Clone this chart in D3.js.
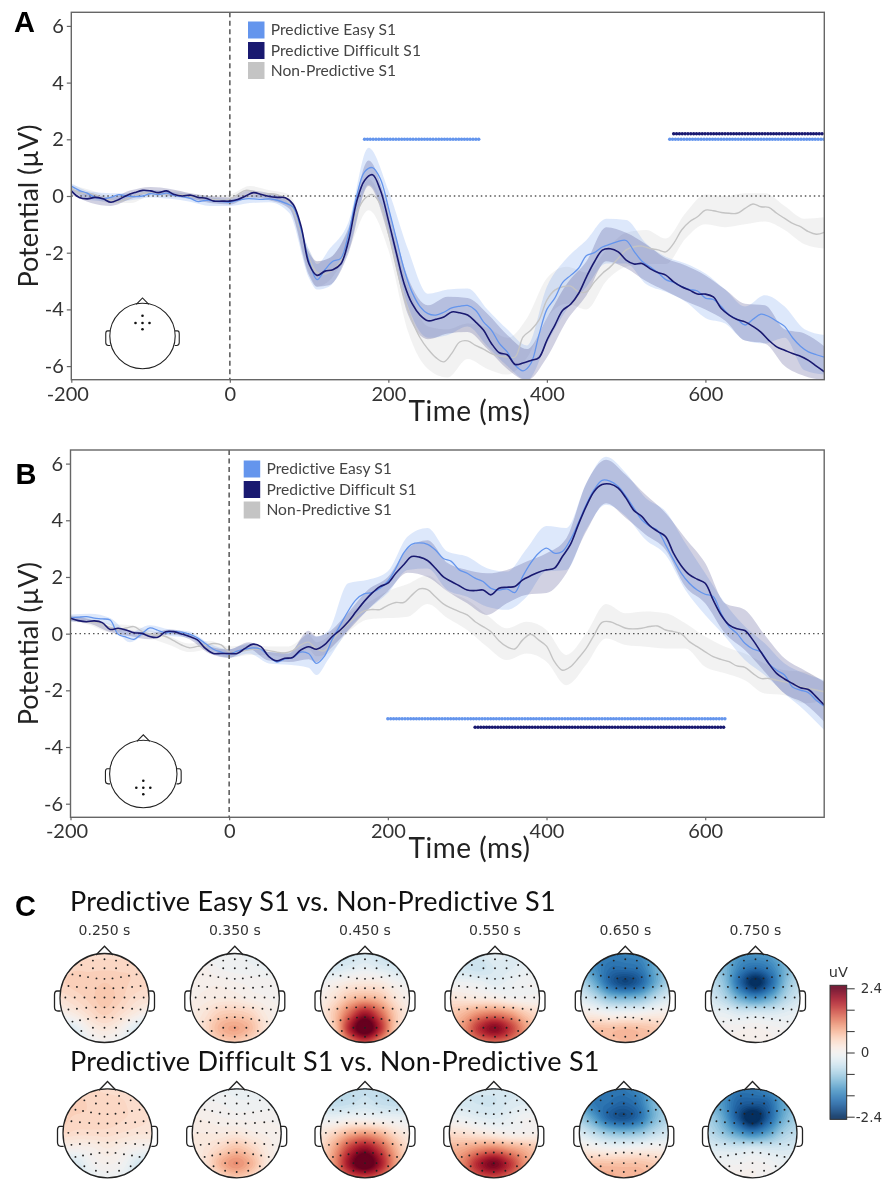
<!DOCTYPE html>
<html>
<head>
<meta charset="utf-8">
<script src="https://cdn.jsdelivr.net/npm/d3@7"></script>
<style>
  html, body { margin: 0; padding: 0; background: #fff; }
  svg { display: block; filter: blur(0.35px); }
</style>
</head>
<body>
<div id="canvas"></div>
<script>
const width = 896;
const height = 1179;

// ---- data ----
const times = d3.range(-200, 751, 10);
const bandTimes = [-200,-175,-150,-125,-100,-75,-50,-25,0,25,50,75,100,110,125,150,175,200,225,250,275,300,325,350,375,400,425,450,475,500,525,550,575,600,625,650,675,700,725,750];
const yTicks = [-6, -4, -2, 0, 2, 4, 6];
const xTicks = [-200, 0, 200, 400, 600];
const legendLabels = ["Predictive Easy S1", "Predictive Difficult S1", "Non-Predictive S1"];

const easyA = [.35,.2,.1,-.05,-.1,-.05,.05,0,-.02,0, .08,.05,.1,.02,-.02,-.08,-.2,-.15,-.18,-.2, -.22,-.15,-.1,-.1,-.12,-.1,-.15,-.25,-.4,-1.2, -2.3,-2.95,-2.6,-2.3,-2.2,-1.3,0,.85,1,.6, -.4,-1.5,-2.6,-3.4,-3.9,-4.15,-4.2,-4.1,-3.95,-3.89, -3.86,-4.03,-4.44,-4.73,-5.2,-5.5,-5.97,-6.17,-5.9,-4.9, -4,-3.6,-3.05,-2.8,-2.55,-2.1,-2,-1.8,-1.7,-1.6, -1.57,-1.95,-2.3,-2.5,-2.7,-2.95,-3.05,-3.2,-3.3,-3.35, -3.6,-3.65,-3.9,-4.2,-4.35,-4.55,-4.35,-4.17,-4.25,-4.42, -4.6,-5,-5.3,-5.5,-5.6,-5.68];
const diffA = [.18,-.05,-.1,-.05,-.1,-.22,-.12,.02,.12,.2, .18,.12,.18,.05,0,.03,-.05,-.08,-.18,-.18, -.18,-.12,0,.12,.05,-.02,-.05,-.06,-.3,-1.08, -2.4,-2.8,-2.65,-2.6,-2.4,-1.55,-.2,.55,.75,.2, -.85,-2,-3.1,-3.8,-4.2,-4.4,-4.35,-4.27,-4.09,-4.12, -4.2,-4.44,-4.73,-5.2,-5.53,-5.6,-5.94,-5.89,-5.8,-5.7, -5.09,-4.56,-4.03,-3.82,-3.44,-2.85,-2.32,-1.91,-1.86,-1.97, -2.26,-2.4,-2.38,-2.56,-2.7,-2.79,-3.03,-3.2,-3.32,-3.46, -3.46,-3.56,-3.97,-4.2,-4.36,-4.44,-4.6,-4.8,-5.09,-5.32, -5.44,-5.56,-5.65,-5.8,-6,-6.2];
const nonA = [.3,.1,.1,.05,-.08,-.15,-.2,-.1,0,.1, .1,.1,.08,.05,.05,0,-.05,-.1,-.12,-.15, -.1,.05,.2,.15,.05,.08,.05,-.1,-.5,-1.3, -2.2,-2.7,-2.75,-2.6,-2.3,-1.5,-.6,-.1,.05,-.3, -1.3,-2.5,-3.6,-4.4,-5,-5.4,-5.7,-5.85,-5.55,-5.15, -5.11,-5.27,-5.4,-5.56,-5.65,-5.68,-5.68,-4.97,-4.73,-4.38, -3.67,-3.32,-3.2,-3.18,-3.38,-3.38,-3.03,-2.73,-2.5,-2.2, -1.9,-1.79,-1.77,-1.85,-1.9,-1.97,-1.67,-1.2,-.91,-.73, -.5,-.52,-.58,-.61,-.61,-.44,-.28,-.38,-.4,-.61, -.79,-.97,-1.08,-1.26,-1.35,-1.28];

const easyUpA = [.45,.15,.1,.1,.2,.15,.05,-.05,-.1,0,.05,-.15,-1.9,-2.4,-1.9,-.9,1.7,.2,-1.9,-3.45,-3.3,-3.26,-4,-4.7,-5.27,-3.2,-2.2,-1.55,-.8,-.85,-1.67,-2.14,-2.38,-2.73,-3.3,-3.9,-3.5,-3.9,-4.7,-4.9];
const easyLoA = [.2,-.15,-.2,-.15,-.05,-.1,-.2,-.35,-.35,-.25,-.22,-.6,-2.9,-3.3,-3.2,-1.9,.4,-1.2,-3.9,-5,-4.9,-4.6,-5.3,-6,-6.5,-5.2,-4,-3.2,-2.38,-2.38,-3.1,-3.38,-3.73,-4.3,-4.5,-5.1,-5.2,-5,-6.15,-6.3];
const diffUpA = [.25,.1,-.05,.2,.32,.25,.1,0,-.05,.2,.1,-.1,-2,-2.3,-2.2,-1.1,1.25,-.45,-2.9,-3.85,-3.55,-3.6,-4.15,-4.9,-5.4,-4.3,-3.1,-2.3,-1.1,-1.3,-1.7,-2.2,-2.45,-2.8,-3.3,-3.8,-3.85,-4.7,-4.85,-5.3];
const diffLoA = [.05,-.25,-.35,-.1,.1,0,-.1,-.25,-.3,-.05,-.15,-.45,-2.8,-3.2,-3.15,-2,.35,-1.4,-4.2,-5.05,-4.85,-4.8,-5.4,-6.1,-6.5,-5.7,-4.4,-3.5,-2.3,-2.55,-3,-3.35,-3.7,-4,-4.4,-5.1,-5.2,-6,-6.35,-6.5];
const nonUpA = [.4,.2,0,0,.2,.2,.1,0,.05,.35,.2,.05,-1.9,-2.3,-2.2,-1.2,.6,-.9,-3.2,-4.6,-4.7,-4.5,-4.65,-5,-4.3,-2.9,-2.5,-2.7,-1.9,-1.3,-1.2,-1.5,-.6,.05,0,.1,.1,-.35,-.8,-.75];
const nonLoA = [.2,-.05,-.25,-.25,0,-.05,-.1,-.2,-.2,0,-.1,-.4,-2.7,-3.2,-3,-1.9,-.5,-1.9,-4.8,-6.1,-6.4,-5.75,-6.1,-6.3,-5.7,-4.3,-3.8,-4,-3,-2.5,-2.4,-2.4,-1.5,-1,-1.1,-1,-.9,-1.2,-1.7,-1.85];

const easyB = [.55,.58,.6,.55,.52,.48,-.02,-.12,-.2,0, .2,.12,.03,.08,.05,-.02,-.15,-.35,-.55,-.65, -.72,-.62,-.55,-.5,-.55,-.8,-1,-.9,-.85,-.65, -.7,-1.05,-.8,-.2,.3,.8,1.2,1.4,1.45,1.6, 1.85,2.3,2.85,3.15,3.2,3.15,2.95,2.65,2.55,2.25, 2.13,1.96,1.84,1.6,1.54,1.58,1.45,2.02,2.49,2.84, 3.02,2.84,2.9,3.31,3.9,4.55,5.08,5.41,5.38,5.2, 4.85,4.43,4.02,3.79,3.64,3.14,2.61,2.13,1.78,1.54, 1.39,1.31,.72,.25,.01,-.34,-.54,-.64,-1.05,-1.29, -1.46,-1.88,-1.99,-2.08,-2.35,-2.56];
const diffB = [.54,.46,.42,.45,.39,.15,.19,.13,.03,.01, -.1,-.13,.07,.07,-.01,-.1,-.22,-.52,-.7,-.7, -.7,-.7,-.52,-.37,-.46,-.81,-.96,-.87,-.84,-.58, -.46,-.55,-.4,-.1,.13,.42,.78,1.13,1.43,1.66, 1.78,2.13,2.43,2.72,2.7,2.58,2.31,2,1.84,1.69, 1.54,1.52,1.54,1.37,1.6,1.64,1.66,1.9,2.04,2.17, 2.25,2.31,2.72,3.14,3.84,4.49,5.02,5.26,5.28,5.14, 4.79,4.35,4.14,3.81,3.61,3.43,2.84,2.39,2.08,1.92, 1.78,1.19,.66,.31,.17,.11,-.22,-.64,-1.05,-1.4, -1.6,-1.76,-1.91,-1.97,-2.23,-2.52];
const nonB = [.55,.45,.42,.4,.35,.2,.15,.2,.25,.08, -.02,-.05,-.1,-.25,-.4,-.5,-.45,-.42,-.35,-.4, -.65,-.65,-.6,-.55,-.55,-.6,-.65,-.68,-.6,-.4, -.3,-.55,-.6,-.25,.1,.35,.6,.8,.85,.85, 1,1.1,1.1,1.35,1.58,1.55,1.3,1.05,.9,.78, .66,.42,.25,.07,-.25,-.46,-.54,-.22,-.02,-.22, -.44,-.99,-1.29,-1.17,-.87,-.52,-.05,.4,.42,.31, .19,.17,.19,.25,.27,.13,.07,-.01,-.28,-.46, -.64,-.81,-.91,-.99,-1.14,-1.19,-1.4,-1.58,-1.58,-1.64, -1.7,-1.76,-1.88,-1.93,-1.99,-2.05];

const easyUpB = [.68,.7,.55,.05,.3,.15,.08,-.35,-.55,-.35,-.65,-.65,0,-.1,.1,1.78,1.9,2.2,3.43,3.73,2.9,2.72,2.31,2.19,3,3.8,3.73,5.3,6.24,5.67,4.79,4.32,3.2,2.13,1.07,.25,-.34,-1.05,-1.4,-1.64];
const easyLoB = [.42,.45,.3,-.3,.05,-.08,-.15,-.65,-.85,-.7,-1.05,-1.1,-1.2,-1.46,-.9,.13,.84,1.43,2.25,2.3,1.54,1.3,.95,.84,1.3,2.2,2.25,3.67,4.55,4.14,3.31,2.78,1.54,.66,-.1,-.93,-1.46,-2.11,-2.7,-3.4];
const diffUpB = [.62,.5,.25,.12,.02,.15,0,-.45,-.55,-.3,-.65,-.7,.1,-.1,.05,.75,1.55,2,3,3.3,2.5,2.25,2.13,2.25,2.55,2.84,3.37,5.3,6.14,5.6,4.9,4.26,3.37,2.49,1.07,.84,-.05,-.87,-1.29,-1.7];
const diffLoB = [.45,.35,.05,-.08,-.2,-.02,-.2,-.7,-.85,-.55,-.95,-1,-.9,-1,-.6,.1,.85,1.5,2.15,2,1.5,1.07,.66,1.07,1.37,1.43,2.13,3.6,4.6,4.08,3.49,2.96,1.66,1.07,.01,-.58,-1.34,-2.11,-2.46,-3.11];
const nonUpB = [.65,.55,.35,.3,.12,-.1,-.35,-.25,-.45,-.4,-.45,-.45,-.05,-.3,-.1,.7,1.1,1.5,1.75,2.05,1.5,1.19,.66,.19,.42,.13,-.75,.01,1.05,.72,.78,.72,.37,-.1,-.46,-.7,-1.05,-1.29,-1.34,-1.7];
const nonLoB = [.45,.3,.05,.1,-.15,-.4,-.65,-.55,-.85,-.75,-.75,-.85,-.55,-.8,-.7,.05,.5,.55,.6,1.05,.55,.13,-.46,-.93,-.7,-.99,-1.82,-1.1,-.17,-.4,-.46,-.52,-.52,-1.17,-1.4,-1.64,-2.11,-2.17,-2.46,-2.35];

// significant stretches: [from, to, level]
const sigEasyA = [[170, 315, 2], [555, 750, 2]];
const sigDiffA = [[560, 750, 2.2]];
const sigEasyB = [[200, 625, -3]];
const sigDiffB = [[310, 625, -3.3]];

// topomaps, 7x7 grid front to back, left to right (uV)
const topoLabels = ["0.250 s", "0.350 s", "0.450 s", "0.550 s", "0.650 s", "0.750 s"];
const topoEasy250 = [.4,.4,.4,.4,.4,.4,.4, .45,.5,.5,.5,.5,.5,.45, .5,.55,.55,.6,.55,.5,.45, .35,.45,.55,.65,.55,.4,.35, .05,.2,.4,.55,.4,.2,0, -.5,-.3,.1,.25,.1,-.3,-.7, -.6,-.45,-.15,0,-.15,-.45,-.8];
const topoEasy350 = [-.1,-.1,-.1,-.1,-.15,-.2,-.2, .05,.05,-.05,-.08,-.1,-.15,-.15, .1,.1,.1,.05,.02,0,-.02, .1,.15,.2,.2,.1,.05,0, .15,.3,.55,.6,.5,.2,.05, .1,.4,.8,.95,.75,.3,0, .05,.2,.5,.6,.4,.1,0];
const topoEasy450 = [-.5,-.5,-.5,-.4,-.5,-.6,-.6, -.4,-.4,-.3,-.2,-.3,-.4,-.5, -.1,.05,.2,.25,.2,0,-.1, .1,.35,.7,.85,.7,.3,.05, .2,.65,1.4,2,1.4,.6,.15, .15,.6,1.9,2.7,1.8,.6,.1, .05,.3,1.1,1.5,1,.3,.05];
const topoEasy550 = [-.4,-.4,-.35,-.2,-.3,-.3,-.2, -.4,-.45,-.5,-.35,-.3,-.2,-.15, -.1,-.1,-.15,-.25,-.15,-.05,-.05, .3,.25,.2,.15,.02,0,0, .6,.8,1.1,1.2,1,.6,.4, .7,1.1,1.8,2.2,1.7,1,.5, .5,.9,1.2,1.3,1.2,.8,.4];
const topoEasy650 = [-1.3,-1.5,-1.6,-1.6,-1.5,-1.2,-1, -1.1,-1.5,-1.8,-1.8,-1.7,-1.2,-.9, -.7,-1.2,-1.9,-2.2,-1.9,-1.2,-.7, -.3,-.6,-1,-1.1,-1,-.6,-.3, .2,.1,-.05,-.05,0,.1,.15, .5,.7,.7,.75,.7,.6,.4, .5,.7,.7,.75,.7,.5,.3];
const topoEasy750 = [-.9,-1.1,-1.4,-1.4,-1.3,-.9,-.7, -.8,-1.1,-1.6,-1.8,-1.6,-1.1,-.7, -.6,-1,-1.9,-2.5,-1.9,-1,-.6, -.4,-.7,-1.2,-1.5,-1.2,-.7,-.4, -.15,-.2,-.35,-.35,-.35,-.25,-.15, -.02,0,.02,.05,0,-.05,-.1, 0,.05,.05,.1,.05,0,-.05];
const topoDiff250 = [.4,.45,.45,.4,.4,.4,.35, .5,.55,.5,.5,.45,.4,.4, .55,.5,.5,.5,.45,.4,.35, .45,.4,.4,.4,.35,.3,.3, .05,.05,.1,.2,.1,0,-.05, -.45,-.35,-.05,.05,-.05,-.4,-.55, -.5,-.4,-.2,-.1,-.2,-.45,-.6];
const topoDiff350 = [-.2,-.2,-.15,-.15,-.2,-.2,-.2, 0,-.02,-.05,-.1,-.1,-.1,-.1, .15,.1,.05,.02,.02,.02,0, .2,.2,.2,.25,.15,.1,.05, .2,.3,.5,.7,.5,.2,.05, .1,.35,.85,1.1,.8,.25,0, 0,.1,.4,.6,.4,.05,-.05];
const topoDiff450 = [-.6,-.6,-.6,-.55,-.6,-.6,-.6, -.5,-.6,-.55,-.45,-.55,-.6,-.6, -.15,-.15,-.05,-.05,-.1,-.15,-.2, .25,.5,.85,1,.8,.4,.15, .4,.95,1.7,2.1,1.6,.85,.3, .45,1.1,2.1,2.7,2,1,.3, .4,.9,1.4,1.5,1.3,.6,.2];
const topoDiff550 = [-.45,-.45,-.4,-.4,-.4,-.35,-.3, -.4,-.4,-.45,-.45,-.35,-.3,-.25, -.1,-.15,-.25,-.3,-.2,-.05,-.05, .4,.35,.25,.15,.05,.05,.1, .8,.9,1.1,1.2,1,.8,.6, .8,1.2,1.9,2.3,1.8,1.1,.6, .6,1,1.4,1.5,1.3,.9,.5];
const topoDiff650 = [-1.3,-1.6,-1.7,-1.7,-1.5,-1.2,-1, -1.2,-1.7,-1.8,-1.9,-1.7,-1.1,-.9, -.8,-1.3,-1.9,-2.1,-1.8,-1.1,-.7, -.3,-.6,-.9,-1,-.9,-.6,-.4, .2,.1,0,0,.05,.1,.05, .6,.7,.7,.7,.7,.6,.5, .9,.9,.9,.8,.8,.7,.5];
const topoDiff750 = [-1.2,-1.4,-1.7,-1.7,-1.5,-1.2,-.9, -1.1,-1.4,-1.9,-2,-1.9,-1.3,-1, -.8,-1.2,-2,-2.6,-2,-1.2,-.8, -.6,-.9,-1.3,-1.6,-1.3,-.8,-.6, -.3,-.35,-.4,-.35,-.4,-.4,-.35, -.02,-.05,-.05,0,-.05,-.15,-.15, .15,.15,.1,.05,0,-.1,-.15];

// electrode positions on the right half of the head (unit radius), mirrored when drawn
const sensors = [[0,-.87],[.26,-.84],[.52,-.74],[0,-.67],[.26,-.67],[0,-.43],[.18,-.44],[.37,-.47],[.55,-.5],[.72,-.53],[0,-.22],[.2,-.22],[.41,-.23],[.62,-.25],[.81,-.27],[0,-.01],[.22,-.01],[.45,-.01],[.67,-.01],[.88,-.01],[0,.21],[.2,.21],[.41,.22],[.62,.24],[.81,.26],[0,.43],[.18,.44],[.37,.47],[.55,.5],[.72,.53],[0,.67],[.26,.67],[0,.87],[.26,.84],[.52,.74]];
const colorbarTicks = [2.4, 1.6, 0.8, 0, -0.8, -1.6, -2.4];

const colors = { easy: "#6495ed", diff: "#191970", non: "#c4c4c4" };
const tickFont = "Lato, sans-serif";
const plotFont = "'DejaVu Sans', sans-serif";

const svg = d3.select("#canvas").append("svg")
  .attr("width", width)
  .attr("height", height)
  .attr("viewBox", `0 0 ${width} ${height}`);

function drawErp(opt) {
  const x = d3.scaleLinear().domain([-200, 750]).range([opt.left, opt.right]);
  const y = d3.scaleLinear().domain([-6.48, 6.48]).range([opt.bottom, opt.top]);
  const g = svg.append("g");

  g.append("clipPath").attr("id", opt.id)
    .append("rect")
    .attr("x", opt.left).attr("y", opt.top)
    .attr("width", opt.right - opt.left).attr("height", opt.bottom - opt.top);
  const plot = g.append("g").attr("clip-path", `url(#${opt.id})`);

  const band = d3.area()
    .x((d) => x(d.t)).y0((d) => y(d.lo)).y1((d) => y(d.up))
    .curve(d3.curveMonotoneX);
  const line = d3.line()
    .x((d, i) => x(times[i])).y((d) => y(d))
    .curve(d3.curveCatmullRom.alpha(0.5));

  opt.series.forEach((s) => {
    const rows = bandTimes.map((t, i) => ({ t: t, up: s.up[i], lo: s.lo[i] }));
    plot.append("path").attr("d", band(rows))
      .attr("fill", s.color).attr("fill-opacity", s.bandAlpha);
  });

  plot.append("line")
    .attr("x1", x(-200)).attr("x2", x(750))
    .attr("y1", y(0)).attr("y2", y(0))
    .attr("stroke", "#555").attr("stroke-width", 1.4)
    .attr("stroke-dasharray", "1.5,3");
  plot.append("line")
    .attr("x1", x(0)).attr("x2", x(0))
    .attr("y1", opt.top).attr("y2", opt.bottom)
    .attr("stroke", "#666").attr("stroke-width", 1.7)
    .attr("stroke-dasharray", "5,3.5");

  opt.series.forEach((s) => {
    plot.append("path").attr("d", line(s.values))
      .attr("fill", "none").attr("stroke", s.lineColor || s.color)
      .attr("stroke-width", s.lineWidth);
  });

  opt.sig.forEach((s) => {
    s.spans.forEach((span) => {
      plot.selectAll(null)
        .data(d3.range(span[0], span[1] + 0.1, 3.6))
        .enter().append("circle")
        .attr("cx", (d) => x(d)).attr("cy", y(span[2]))
        .attr("r", 1.75).attr("fill", s.color);
    });
  });

  // axes
  const yAxis = g.append("g")
    .attr("transform", `translate(${opt.left},0)`)
    .call(d3.axisLeft(y).tickValues(yTicks).tickSize(4.5).tickPadding(3).tickFormat((d) => String(d)));
  const xAxis = g.append("g")
    .attr("transform", `translate(0,${opt.bottom})`)
    .call(d3.axisBottom(x).tickValues(xTicks).tickSize(3).tickPadding(4).tickFormat((d) => String(d)));
  [yAxis, xAxis].forEach((a) => {
    a.selectAll("text").attr("font-family", tickFont).attr("font-size", 20).attr("fill", "#333");
    a.selectAll("line").attr("stroke", "#666").attr("stroke-width", 1.2);
    a.select(".domain").remove();
  });
  xAxis.selectAll("text").filter((d) => d === -200).attr("dx", -4);

  g.append("rect")
    .attr("x", opt.left).attr("y", opt.top)
    .attr("width", opt.right - opt.left).attr("height", opt.bottom - opt.top)
    .attr("fill", "none").attr("stroke", "#666").attr("stroke-width", 1.4);

  g.append("text")
    .attr("transform", `translate(${opt.yLabelX},${(opt.top + opt.bottom) / 2 + 10}) rotate(-90)`)
    .attr("text-anchor", "middle")
    .attr("font-family", tickFont).attr("font-size", 27).attr("fill", "#222")
    .text("Potential (\u00b5V)");
  g.append("text")
    .attr("x", opt.xLabelX).attr("y", opt.xLabelY)
    .attr("text-anchor", "middle")
    .attr("font-family", tickFont).attr("font-size", 28).attr("letter-spacing", 0.5).attr("fill", "#222")
    .text("Time (ms)");

  // legend
  const legendColors = [colors.easy, colors.diff, colors.non];
  legendLabels.forEach((label, i) => {
    g.append("rect")
      .attr("x", opt.legendX).attr("y", opt.legendY[i] - 8.5)
      .attr("width", 16.5).attr("height", 17)
      .attr("fill", legendColors[i]);
    g.append("text")
      .attr("x", opt.legendX + 22.7).attr("y", opt.legendY[i] + 5)
      .attr("font-family", tickFont).attr("font-size", 15.6).attr("letter-spacing", 0.05).attr("fill", "#444")
      .text(label);
  });

  // electrode inset
  const head = g.append("g").attr("transform", `translate(${opt.headX},${opt.headY})`);
  drawHeadOutline(head, opt.headR, 1.1);
  opt.headDots.forEach((d) => {
    head.append("circle").attr("cx", d[0]).attr("cy", d[1]).attr("r", 1.3).attr("fill", "#111");
  });
}

function drawHeadOutline(sel, r, w) {
  const k = r / 44.5;
  sel.append("path")
    .attr("d", `M${-8.5 * k},${-r + 1.5 * k}L0,${-r - 7.3 * k}L${8.5 * k},${-r + 1.5 * k}`)
    .attr("fill", "none").attr("stroke", "#222").attr("stroke-width", w);
  [-1, 1].forEach((side) => {
    sel.append("path")
      .attr("d", `M${side * r * 0.985},${-7 * k}L${side * (r + 3 * k)},${-7 * k}Q${side * (r + 5.5 * k)},${-7 * k} ${side * (r + 5.5 * k)},${-3 * k}L${side * (r + 5.5 * k)},${9 * k}Q${side * (r + 5.5 * k)},${13 * k} ${side * (r + 2 * k)},${13 * k}L${side * r * 0.985},${13 * k}`)
      .attr("fill", "none").attr("stroke", "#222").attr("stroke-width", w);
  });
  sel.append("circle").attr("r", r)
    .attr("fill", "none").attr("stroke", "#222").attr("stroke-width", w);
}

drawErp({
  id: "clipA", left: 71.3, right: 824.3, top: 12.3, bottom: 379.7,
  yLabelX: 38, xLabelX: 469.5, xLabelY: 421,
  legendX: 248, legendY: [30, 50.5, 70.5],
  headX: 142.5, headY: 336, headR: 32.7,
  headDots: [[0,-20.3],[-7,-13],[0,-13],[7,-13],[0,-6.7]],
  series: [
    { values: nonA, up: nonUpA, lo: nonLoA, color: colors.non, bandAlpha: 0.22, lineWidth: 1.4 },
    { values: easyA, up: easyUpA, lo: easyLoA, color: colors.easy, bandAlpha: 0.22, lineWidth: 1.3 },
    { values: diffA, up: diffUpA, lo: diffLoA, color: colors.diff, bandAlpha: 0.2, lineWidth: 1.6 }
  ],
  sig: [{ spans: sigEasyA, color: colors.easy }, { spans: sigDiffA, color: colors.diff }]
});

drawErp({
  id: "clipB", left: 70.5, right: 824.2, top: 450, bottom: 817.3,
  yLabelX: 38, xLabelX: 469.5, xLabelY: 858,
  legendX: 243.7, legendY: [469, 489.5, 510],
  headX: 143.3, headY: 774, headR: 33.7,
  headDots: [[0,6.7],[-7,13.7],[0,13.7],[7,13.7],[0,20.3]],
  series: [
    { values: nonB, up: nonUpB, lo: nonLoB, color: colors.non, bandAlpha: 0.22, lineWidth: 1.4 },
    { values: easyB, up: easyUpB, lo: easyLoB, color: colors.easy, bandAlpha: 0.22, lineWidth: 1.3 },
    { values: diffB, up: diffUpB, lo: diffLoB, color: colors.diff, bandAlpha: 0.2, lineWidth: 1.6 }
  ],
  sig: [{ spans: sigEasyB, color: colors.easy }, { spans: sigDiffB, color: colors.diff }]
});

// panel letters
[["A", 14, 32], ["B", 15.5, 484.3], ["C", 15, 915.7]].forEach((d) => {
  svg.append("text").attr("x", d[1]).attr("y", d[2])
    .attr("font-family", "'Liberation Sans', Arial, sans-serif")
    .attr("font-weight", 700).attr("font-size", 29).attr("fill", "#000")
    .text(d[0]);
});

// ---- panel C ----
[["Predictive Easy S1 vs. Non-Predictive S1", 911], ["Predictive Difficult S1 vs. Non-Predictive S1", 1071]].forEach((d) => {
  svg.append("text").attr("x", 70).attr("y", d[1])
    .attr("font-family", tickFont).attr("font-size", 27).attr("letter-spacing", 0.24).attr("fill", "#111")
    .text(d[0]);
});

const colorScale = (v) => d3.interpolateRdBu((2.4 - Math.max(-2.4, Math.min(2.4, v))) / 4.8);

// smooth a 7x7 grid up to a fine one for the contours
function catmull(a, b, c, d, t) {
  return 0.5 * (2 * b + (c - a) * t + (2 * a - 5 * b + 4 * c - d) * t * t + (3 * b - a - 3 * c + d) * t * t * t);
}
function upsample(grid, n, k) {
  const at = (r, c) => grid[Math.max(0, Math.min(n - 1, r)) * n + Math.max(0, Math.min(n - 1, c))];
  const m = (n - 1) * k + 1;
  const out = new Array(m * m);
  for (let i = 0; i < m; i++) {
    const r = Math.min(Math.floor(i / k), n - 2), tr = i / k - r;
    for (let j = 0; j < m; j++) {
      const c = Math.min(Math.floor(j / k), n - 2), tc = j / k - c;
      const col = [-1, 0, 1, 2].map((dr) => catmull(at(r + dr, c - 1), at(r + dr, c), at(r + dr, c + 1), at(r + dr, c + 2), tc));
      out[i * m + j] = catmull(col[0], col[1], col[2], col[3], tr);
    }
  }
  return { values: out, m: m };
}

let clipCount = 0;
function drawTopomap(grid, cx, cy, r) {
  const g = svg.append("g").attr("transform", `translate(${cx},${cy})`);
  const fine = upsample(grid, 7, 8);
  const thresholds = d3.range(-2.6, 2.71, 0.08);
  const contours = d3.contours().size([fine.m, fine.m]).thresholds(thresholds)(fine.values);
  const id = `head${clipCount++}`;
  g.append("clipPath").attr("id", id).append("circle").attr("r", r);
  const paint = g.append("g").attr("clip-path", `url(#${id})`);
  paint.append("circle").attr("r", r).attr("fill", colorScale(-2.6));
  const size = 2 * r * 1.03;
  paint.append("g")
    .attr("transform", `translate(${-size / 2},${-size / 2}) scale(${size / (fine.m - 1)}) translate(-0.5,-0.5)`)
    .selectAll("path").data(contours).enter().append("path")
    .attr("d", d3.geoPath())
    .attr("fill", (d) => colorScale(d.value + 0.04));
  drawHeadOutline(g, r, 1.3);
  const dots = [];
  sensors.forEach((s) => {
    dots.push(s);
    if (s[0] > 0) dots.push([-s[0], s[1]]);
  });
  g.selectAll(".sensor").data(dots).enter().append("circle")
    .attr("class", "sensor")
    .attr("cx", (d) => d[0] * r).attr("cy", (d) => d[1] * r)
    .attr("r", 0.95).attr("fill", "#222");
}

const topoRowEasy = [topoEasy250, topoEasy350, topoEasy450, topoEasy550, topoEasy650, topoEasy750];
const topoRowDiff = [topoDiff250, topoDiff350, topoDiff450, topoDiff550, topoDiff650, topoDiff750];
const easyCx = [104.5, 234.8, 365, 495, 625.3, 755.5];
const diffCx = [107.5, 236.7, 365, 493.8, 623.8, 752.5];
topoRowEasy.forEach((grid, i) => {
  drawTopomap(grid, easyCx[i], 998, 44.5);
  svg.append("text").attr("x", easyCx[i]).attr("y", 935)
    .attr("text-anchor", "middle")
    .attr("font-family", plotFont).attr("font-size", 14).attr("fill", "#333")
    .text(topoLabels[i]);
});
topoRowDiff.forEach((grid, i) => drawTopomap(grid, diffCx[i], 1133.3, 44.5));

// colorbar
const barY = d3.scaleLinear().domain([2.4, -2.4]).range([988.3, 1116.7]);
const barG = svg.append("g");
barG.selectAll("rect").data(d3.range(985.3, 1119.3, 1)).enter().append("rect")
  .attr("x", 830).attr("width", 16.7)
  .attr("y", (d) => d).attr("height", 1.3)
  .attr("fill", (d) => colorScale(barY.invert(d + 0.5)));
const barAxis = barG.append("g")
  .attr("transform", "translate(846.7,0)")
  .call(d3.axisRight(barY).tickValues(colorbarTicks).tickSize(8).tickPadding(6)
    .tickFormat((d) => (Math.abs(d) === 2.4 || d === 0 ? String(d) : "")));
barAxis.select(".domain").remove();
barAxis.selectAll("line").attr("stroke", "#333").attr("stroke-width", 1);
barAxis.selectAll("text").attr("font-family", plotFont).attr("font-size", 13.5).attr("fill", "#333");
barAxis.selectAll("text").filter((d) => d === -2.4).attr("dx", -5);
barG.append("rect").attr("x", 830).attr("y", 985.3).attr("width", 16.7).attr("height", 134)
  .attr("fill", "none").attr("stroke", "#333").attr("stroke-width", 1);
svg.append("text").attr("x", 838.3).attr("y", 976.7).attr("text-anchor", "middle")
  .attr("font-family", plotFont).attr("font-size", 14.5).attr("fill", "#333").text("uV");
</script>
</body>
</html>
